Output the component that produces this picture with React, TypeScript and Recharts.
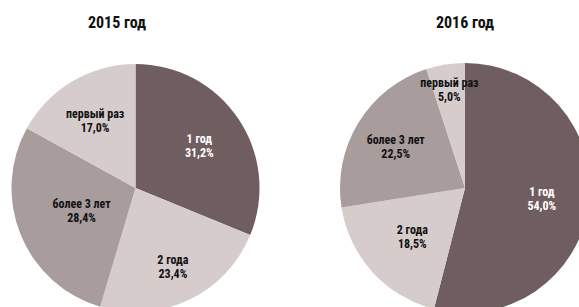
import { PieChart, Pie, Cell } from "recharts";

const categories = ["1 год", "2 года", "более 3 лет", "первый раз"];
const values2015 = [31.2, 23.4, 28.4, 17.0];
const values2016 = [54.0, 18.5, 22.5, 5.0];
const titles = ["2015 год", "2016 год"];

const COLORS = ["#6f5d5f", "#d6cccc", "#a89c9d", "#d6cccc"];
const LABEL_COLORS = ["#ffffff", "#111111", "#111111", "#111111"];
// how far out from the centre each label sits, as a share of the radius
const LABEL_RADIUS_2015 = [0.62, 0.7, 0.47, 0.64];
const LABEL_RADIUS_2016 = [0.62, 0.57, 0.65, 0.8];

const FONT = "'Roboto Condensed', 'Liberation Sans Narrow', Roboto, sans-serif";
const RAD = Math.PI / 180;

const toRows = (values: number[]) =>
  categories.map((name, i) => ({ name, value: values[i] }));

const makeLabel =
  (factors: number[]) =>
  (props: any) => {
    const { cx, cy, midAngle, outerRadius, index, name, value } = props;
    const r = outerRadius * factors[index];
    const x = cx + r * Math.cos(-midAngle * RAD);
    const y = cy + r * Math.sin(-midAngle * RAD);
    return (
      <text
        x={x}
        y={y}
        textAnchor="middle"
        fill={LABEL_COLORS[index]}
        style={{
          fontFamily: FONT,
          fontSize: 12,
          fontWeight: 700,
          fontStretch: "condensed",
        }}
      >
        <tspan x={x} dy={-2}>
          {name}
        </tspan>
        <tspan x={x} dy={14}>
          {value.toFixed(1).replace(".", ",")}%
        </tspan>
      </text>
    );
  };

export default function App() {
  return (
    <div
      style={{
        position: "fixed",
        left: 0,
        top: 0,
        width: 579,
        height: 307,
        background: "#ffffff",
        overflow: "hidden",
      }}
    >
      {titles.map((t, i) => (
        <div
          key={t}
          style={{
            position: "absolute",
            top: 13,
            left: i === 0 ? 117 - 60 : 465 - 60,
            width: 120,
            textAlign: "center",
            fontFamily: FONT,
            fontWeight: 700,
            fontSize: 16,
            fontStretch: "condensed",
            color: "#111",
          }}
        >
          {t}
        </div>
      ))}
      <PieChart width={579} height={307} margin={{ top: 0, right: 0, bottom: 0, left: 0 }}>
        <Pie
          data={toRows(values2015)}
          dataKey="value"
          nameKey="name"
          cx={135.5}
          cy={188}
          outerRadius={124}
          startAngle={90}
          endAngle={-270}
          stroke="none"
          labelLine={false}
          label={makeLabel(LABEL_RADIUS_2015)}
          isAnimationActive={false}
        >
          {values2015.map((_, i) => (
            <Cell key={i} fill={COLORS[i]} />
          ))}
        </Pie>
        <Pie
          data={toRows(values2016)}
          dataKey="value"
          nameKey="name"
          cx={465}
          cy={188}
          outerRadius={125}
          startAngle={90}
          endAngle={-270}
          stroke="none"
          labelLine={false}
          label={makeLabel(LABEL_RADIUS_2016)}
          isAnimationActive={false}
        >
          {values2016.map((_, i) => (
            <Cell key={i} fill={COLORS[i]} />
          ))}
        </Pie>
      </PieChart>
    </div>
  );
}
